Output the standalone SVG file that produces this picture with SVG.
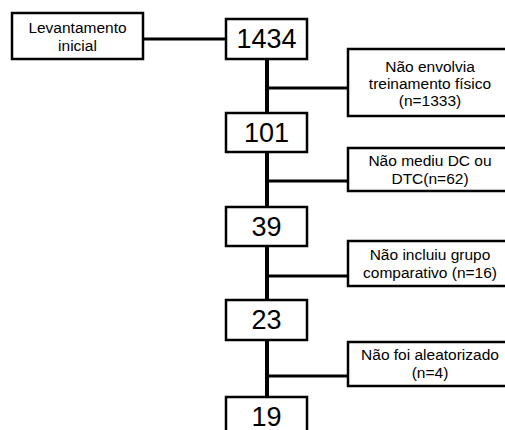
<svg xmlns="http://www.w3.org/2000/svg" width="505" height="430" viewBox="0 0 505 430">
<style>
.box{fill:#fff;stroke:#000;stroke-width:2.5}
.num{font-family:"Liberation Sans",Arial,sans-serif;font-size:27px;text-anchor:middle;fill:#000}
.lbl{font-family:"Liberation Sans",Arial,sans-serif;font-size:15.5px;text-anchor:middle;fill:#000}
.ln{stroke:#000;fill:none}
</style>
<rect width="505" height="430" fill="#fff"/>
<g id="connectors">
<line class="ln" x1="143" y1="39" x2="226" y2="39" stroke-width="3"/>
<line class="ln" x1="267" y1="59" x2="267" y2="400" stroke-width="4"/>
<line class="ln" x1="267" y1="88" x2="348" y2="88" stroke-width="3"/>
<line class="ln" x1="267" y1="181" x2="348" y2="181" stroke-width="3"/>
<line class="ln" x1="267" y1="276" x2="348" y2="276" stroke-width="3"/>
<line class="ln" x1="267" y1="376" x2="348" y2="376" stroke-width="3"/>
</g>
<g id="n-levantamento">
<rect class="box" x="12" y="13" width="131" height="46"/>
<text class="lbl" x="77.5" y="33">Levantamento</text>
<text class="lbl" x="77.5" y="51">inicial</text>
</g>
<g id="n-1434">
<rect class="box" x="226" y="19" width="81" height="40"/>
<text class="num" x="266.5" y="48">1434</text>
</g>
<g id="n-excl1">
<rect class="box" x="348" y="49" width="170" height="67"/>
<text class="lbl" x="430" y="72">Não envolvia</text>
<text class="lbl" x="430" y="89">treinamento físico</text>
<text class="lbl" x="430" y="106">(n=1333)</text>
</g>
<g id="n-101">
<rect class="box" x="226" y="113" width="81" height="39"/>
<text class="num" x="266.5" y="142">101</text>
</g>
<g id="n-excl2">
<rect class="box" x="348" y="148" width="170" height="43"/>
<text class="lbl" x="430" y="166">Não mediu DC ou</text>
<text class="lbl" x="430" y="184">DTC(n=62)</text>
</g>
<g id="n-39">
<rect class="box" x="226" y="207" width="81" height="39"/>
<text class="num" x="266.5" y="236">39</text>
</g>
<g id="n-excl3">
<rect class="box" x="348" y="241" width="170" height="45"/>
<text class="lbl" x="430" y="260">Não incluiu grupo</text>
<text class="lbl" x="430" y="278">comparativo (n=16)</text>
</g>
<g id="n-23">
<rect class="box" x="226" y="300" width="81" height="40"/>
<text class="num" x="266.5" y="329">23</text>
</g>
<g id="n-excl4">
<rect class="box" x="348" y="342" width="170" height="44"/>
<text class="lbl" x="430" y="360">Não foi aleatorizado</text>
<text class="lbl" x="430" y="378">(n=4)</text>
</g>
<g id="n-19">
<rect class="box" x="226" y="397" width="81" height="40"/>
<text class="num" x="266.5" y="426">19</text>
</g>
</svg>
